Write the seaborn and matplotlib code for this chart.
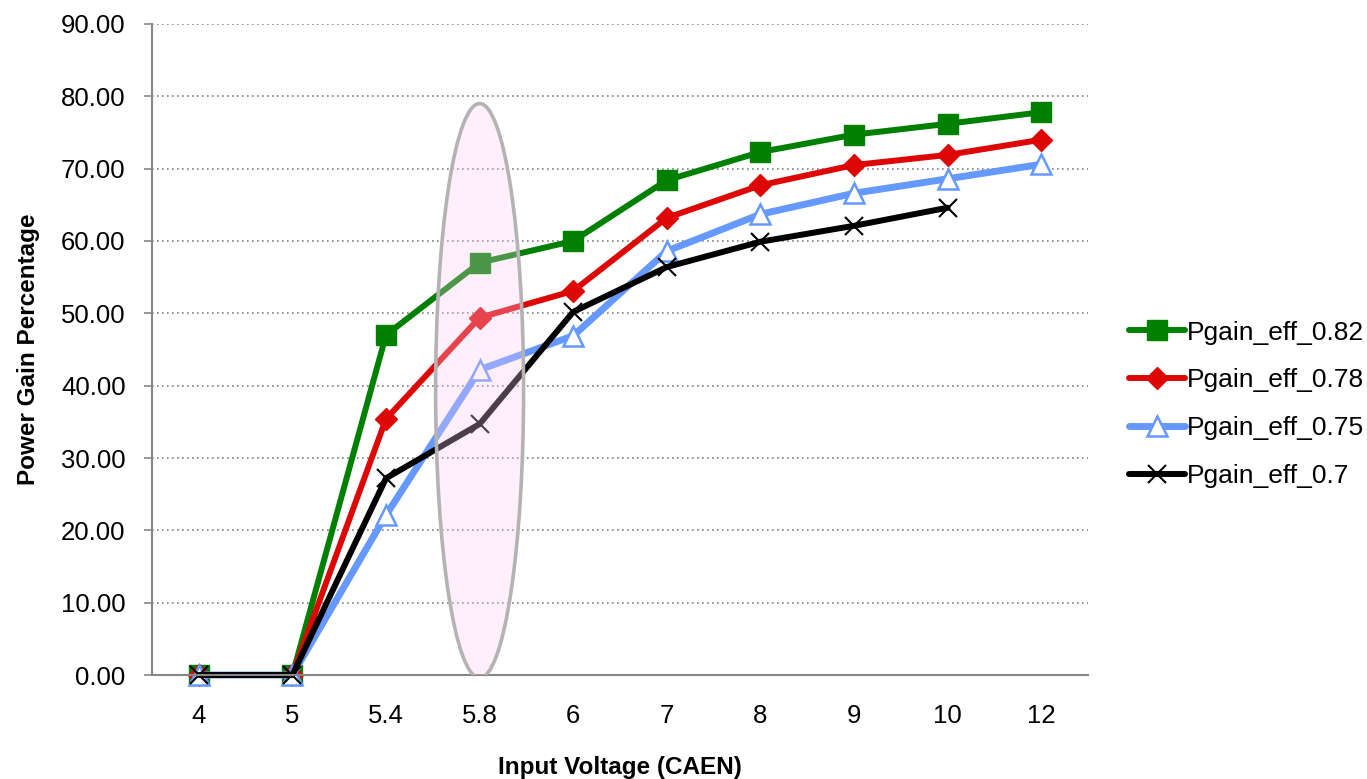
import numpy as np
import pandas as pd
import seaborn as sns
import matplotlib
matplotlib.use("Agg")
import matplotlib.pyplot as plt
from matplotlib.patches import Ellipse

# data
voltages = ["4", "5", "5.4", "5.8", "6", "7", "8", "9", "10", "12"]
eff_082 = [0, 0, 47.0, 57.0, 60.0, 68.4, 72.3, 74.7, 76.2, 77.8]
eff_078 = [0, 0, 35.4, 49.4, 53.1, 63.2, 67.7, 70.5, 71.9, 74.0]
eff_075 = [0, 0, 22.1, 42.2, 46.9, 58.6, 63.7, 66.6, 68.6, 70.6]
eff_070 = [0, 0, 27.2, 34.7, 50.2, 56.4, 59.9, 62.1, 64.6, np.nan]

series_names = ["Pgain_eff_0.82", "Pgain_eff_0.78", "Pgain_eff_0.75", "Pgain_eff_0.7"]
series_values = [eff_082, eff_078, eff_075, eff_070]

# styling per series
styles = {
    "Pgain_eff_0.82": dict(color="#008000", marker="s", ms=14, mfc="#008000", mec="#008000", mew=1, lw=4.3),
    "Pgain_eff_0.78": dict(color="#DD0806", marker="D", ms=11, mfc="#DD0806", mec="#DD0806", mew=1, lw=4.3),
    "Pgain_eff_0.75": dict(color="#6699FF", marker="^", ms=14, mfc="white", mec="#6699FF", mew=1.8, lw=5.0),
    "Pgain_eff_0.7": dict(color="black", marker="x", ms=13, mfc="black", mec="black", mew=1.5, lw=4.3),
}

rows = []
for name, vals in zip(series_names, series_values):
    for i, v in enumerate(vals):
        rows.append({"pos": i, "voltage": voltages[i], "series": name, "value": v})
df = pd.DataFrame(rows)

sns.set_style("white")
plt.rcParams['font.family'] = ['Liberation Sans', 'DejaVu Sans']
plt.rcParams['text.color'] = 'black'
plt.rcParams['axes.labelcolor'] = 'black'
plt.rcParams['xtick.color'] = 'black'
plt.rcParams['ytick.color'] = 'black'

fig = plt.figure(figsize=(13.67, 7.79), dpi=100)
ax = fig.add_axes([0.1112, 0.1335, 0.6847, 0.8357])

for name in series_names:
    sub = df[df["series"] == name].dropna()
    st = styles[name]
    sns.lineplot(data=sub, x="pos", y="value", ax=ax, color=st["color"],
                 linewidth=st["lw"], marker=st["marker"], markersize=st["ms"],
                 markerfacecolor=st["mfc"], markeredgecolor=st["mec"],
                 markeredgewidth=st["mew"], label=name, legend=False, clip_on=False)

# highlight ellipse around 5.8
ell = Ellipse((3, 39.3), width=0.94, height=79.4,
              facecolor=(1.0, 0.8, 0.95, 0.3), edgecolor="#B3B3B3",
              linewidth=2.6, zorder=5)
ax.add_patch(ell)

ax.set_xlim(-0.5, len(voltages) - 0.5)
ax.set_ylim(0, 90)
ax.set_xticks(range(len(voltages)))
ax.set_xticklabels(voltages)
ax.set_yticks(np.arange(0, 91, 10))
ax.set_yticklabels([f"{v:.2f}" for v in np.arange(0, 91, 10)])
ax.tick_params(axis="x", length=0, pad=21, labelsize=18.5)
ax.tick_params(axis="y", length=6, width=1.2, color="#868686", labelcolor="black",
               pad=13, labelsize=18.5, direction="out", left=True)

ax.yaxis.grid(True, color="#808080", linestyle=(0, (1, 2)), linewidth=1.2)
ax.xaxis.grid(False)
for side in ["top", "right"]:
    ax.spines[side].set_visible(False)
for side in ["left", "bottom"]:
    ax.spines[side].set_color("#868686")
    ax.spines[side].set_linewidth(1.5)

ax.set_xlabel("Input Voltage (CAEN)", fontsize=17.5, fontweight="bold", labelpad=20)
ax.set_ylabel("Power Gain Percentage", fontsize=17.5, fontweight="bold", labelpad=15)

handles, labels = ax.get_legend_handles_labels()
fig.legend(handles, labels, loc="center left", bbox_to_anchor=(0.826, 0.481),
           frameon=False, fontsize=19, handlelength=2.1, handletextpad=0.1,
           labelspacing=0.9, borderpad=0, borderaxespad=0)

plt.savefig("out.png", dpi=100)
plt.close()
